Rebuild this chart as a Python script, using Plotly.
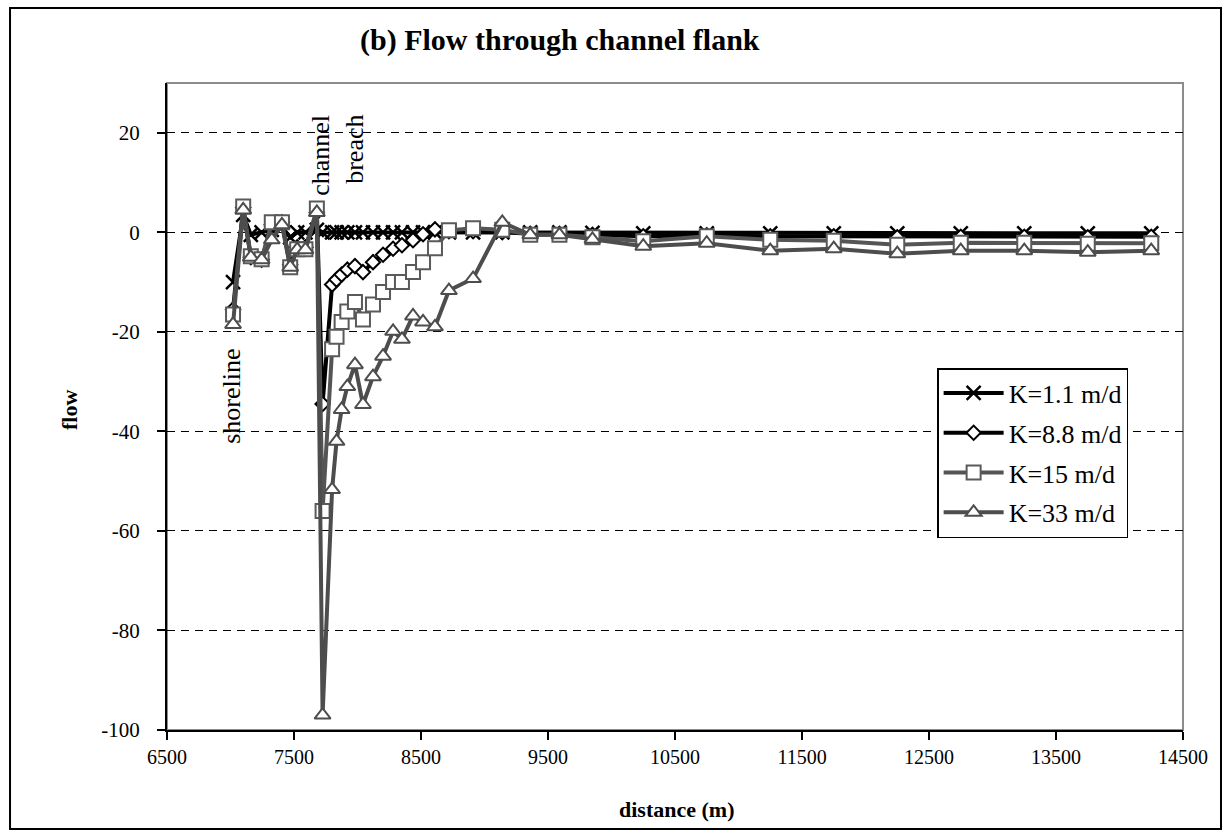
import plotly.graph_objects as go

distance = [7020, 7100, 7160, 7245, 7325, 7405, 7470, 7525, 7590, 7680, 7725,
            7800, 7835, 7875, 7920, 7980, 8043, 8122, 8201, 8280, 8350, 8437,
            8516, 8610, 8720, 8910, 9140, 9360, 9590, 9850, 10250, 10750,
            11250, 11750, 12250, 12750, 13250, 13750, 14250]

k_1_1 = [-10, 3.5, -0.5, 0, 0.5, 1, -1, 0, 0, 0.5, 0,
         0, 0, 0, 0, 0, 0, 0, 0, 0, 0, 0,
         0, 0, 0, 0, 0, 0, 0, -0.1, -0.2, -0.2,
         -0.2, -0.2, -0.2, -0.2, -0.2, -0.2, -0.2]

k_8_8 = [-15.5, 5, -5, -5.5, 1.5, 2, -6.5, -3, -3, 4, -34.5,
         -10.5, -9.5, -8.5, -7.5, -6.8, -8, -6, -4.5, -3.3, -2.6, -1.6,
         -0.4, 0.6, 0.2, 0.2, 0, -0.3, -0.3, -0.5, -0.8, -0.6,
         -0.8, -0.8, -1.0, -0.9, -0.9, -1.0, -0.9]

k_15 = [-16.5, 5.2, -4.8, -5.4, 2, 2, -7, -3.4, -3.4, 4.8, -56,
        -23.5, -21, -18, -15.9, -14, -17.5, -14.5, -12, -10, -10, -8,
        -6, -3.2, 0.4, 0.8, 0.5, -0.5, -0.5, -1.0, -1.8, -0.8,
        -1.5, -1.7, -2.5, -2.1, -2.1, -2.3, -2.2]

k_33 = [-18.5, 4.5, -5, -5.5, -1.5, 1.5, -7, -3.5, -3.5, 4, -97,
        -51.7, -42, -35.6, -31, -26.6, -34.6, -29, -24.9, -19.9, -21.5, -16.8,
        -18, -19, -11.7, -9.3, 2, -0.5, -0.5, -1.4, -2.8, -2.2,
        -3.7, -3.3, -4.3, -3.7, -3.7, -4.0, -3.7]

x_ticks = [6500, 7500, 8500, 9500, 10500, 11500, 12500, 13500, 14500]
y_ticks = [-100, -80, -60, -40, -20, 0, 20]

FONT = "Liberation Serif"

fig = go.Figure()

fig.add_trace(go.Scatter(
    x=distance, y=k_1_1, name="K=1.1 m/d", mode="lines+markers", legendgroup="a",
    line=dict(color="black", width=4),
    marker=dict(symbol="x-thin", size=14, line=dict(color="black", width=2.5))))
fig.add_trace(go.Scatter(
    x=distance, y=k_8_8, name="K=8.8 m/d", mode="lines+markers", legendgroup="b",
    line=dict(color="black", width=4),
    marker=dict(symbol="diamond", size=11, color="white",
                line=dict(color="black", width=2))))
fig.add_trace(go.Scatter(
    x=distance, y=k_15, name="K=15 m/d", mode="lines+markers", legendgroup="c",
    line=dict(color="#555555", width=4),
    marker=dict(symbol="square", size=14, color="white",
                line=dict(color="#5a5a5a", width=2))))
fig.add_trace(go.Scatter(
    x=distance, y=k_33, name="K=33 m/d", mode="lines+markers", legendgroup="d",
    line=dict(color="#4d4d4d", width=4),
    marker=dict(symbol="triangle-up", size=14, color="white",
                line=dict(color="#4d4d4d", width=2))))

fig.update_layout(
    width=1231, height=837,
    margin=dict(l=167, r=48, t=83, b=107, autoexpand=False),
    paper_bgcolor="white", plot_bgcolor="white",
    font=dict(family=FONT, color="black", size=20),
    showlegend=True,
    legend=dict(x=0.758, y=0.5595, xanchor="left", yanchor="top",
                bgcolor="white", bordercolor="black", borderwidth=1.5,
                font=dict(family=FONT, size=26, color="black"),
                tracegroupgap=3, itemwidth=60),
)

fig.update_xaxes(
    range=[6500, 14500], tickvals=x_ticks, ticktext=[str(v) for v in x_ticks],
    showgrid=False, zeroline=False,
    showline=True, linecolor="black", linewidth=2,
    ticks="outside", ticklen=8, tickwidth=1.5, tickcolor="black",
    tickfont=dict(family=FONT, size=20, color="black"))
fig.update_yaxes(
    range=[-100, 30], tickvals=y_ticks, ticktext=[str(v) for v in y_ticks],
    showgrid=True, gridcolor="black", gridwidth=1, griddash="8px,6px",
    zeroline=False,
    showline=True, linecolor="black", linewidth=2,
    ticks="outside", ticklen=8, tickwidth=1.5, tickcolor="black",
    ticklabelstandoff=13,
    tickfont=dict(family=FONT, size=21, color="black"))

# plot area border (grey) and chart border
fig.add_shape(type="rect", xref="paper", yref="paper", x0=0, x1=1, y0=0, y1=1,
              line=dict(color="#8c8c8c", width=2), layer="below")
fig.add_shape(type="rect", xref="paper", yref="paper",
              x0=-0.1545, x1=1.0374, y0=-0.153, y1=1.1159,
              line=dict(color="black", width=2))

fig.add_annotation(text="<b>(b) Flow through channel flank</b>", xref="paper", yref="paper",
                   x=0.3868, y=1.0665, xanchor="center", yanchor="middle", showarrow=False,
                   font=dict(family=FONT, size=30, color="black"))
fig.add_annotation(text="<b>flow</b>", xref="paper", yref="paper",
                   x=-0.0955, y=0.4946, xanchor="center", yanchor="middle",
                   textangle=-90, showarrow=False,
                   font=dict(family=FONT, size=22, color="black"))
fig.add_annotation(text="<b>distance (m)</b>", xref="paper", yref="paper",
                   x=0.501, y=-0.1236, xanchor="center", yanchor="middle", showarrow=False,
                   font=dict(family=FONT, size=22, color="black"))

fig.add_annotation(text="channel", x=7712, y=24.1, xref="x", yref="y",
                   textangle=-90, yanchor="top", showarrow=False,
                   font=dict(family=FONT, size=26, color="black"))
fig.add_annotation(text="breach", x=7980, y=24.1, xref="x", yref="y",
                   textangle=-90, yanchor="top", showarrow=False,
                   font=dict(family=FONT, size=26, color="black"))
fig.add_annotation(text="shoreline", x=7012, y=-43, xref="x", yref="y",
                   textangle=-90, yanchor="bottom", showarrow=False,
                   font=dict(family=FONT, size=26, color="black"))

fig.write_html("out.html")
